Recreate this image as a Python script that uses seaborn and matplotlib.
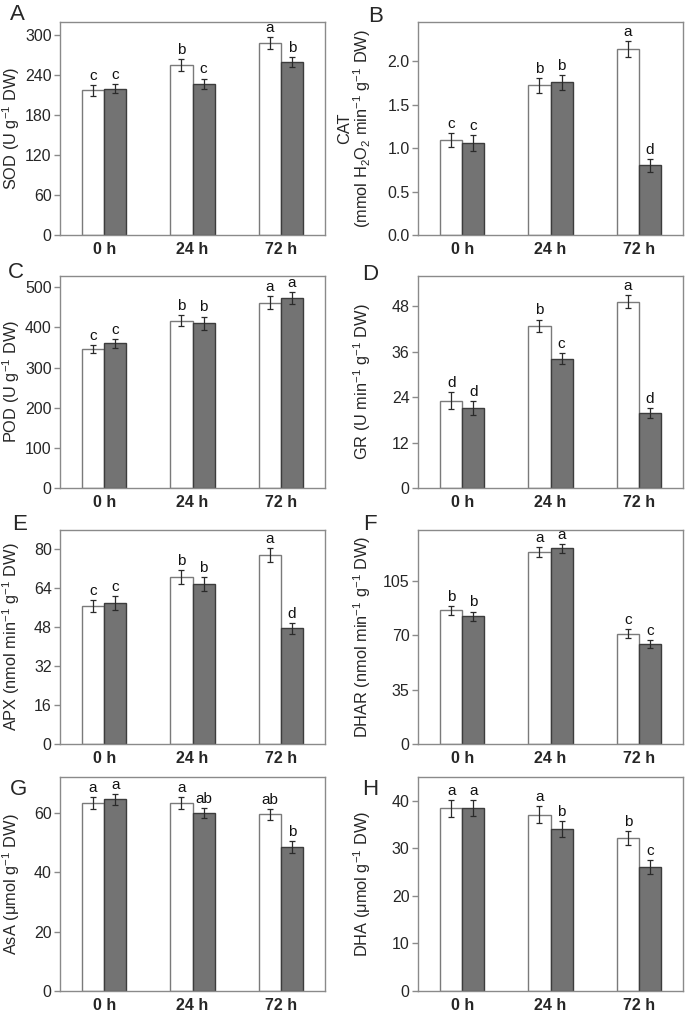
import numpy as np
import pandas as pd
import matplotlib
matplotlib.use("Agg")
import matplotlib.pyplot as plt
import seaborn as sns

sns.set_style("white")
plt.rcParams["font.family"] = ["Liberation Sans", "DejaVu Sans"]
plt.rcParams["mathtext.fontset"] = "custom"
plt.rcParams["mathtext.rm"] = "Liberation Sans"
plt.rcParams["mathtext.it"] = "Liberation Sans:italic"
plt.rcParams["mathtext.bf"] = "Liberation Sans:bold"

times = ["0 h", "24 h", "72 h"]
treatments = ["control", "treated"]

panel_ids = ["A", "B", "C", "D", "E", "F", "G", "H"]
ylabels = [
    r"SOD (U g$^{-1}$ DW)",
    "CAT\n" + r"(mmol H$_2$O$_2$ min$^{-1}$ g$^{-1}$ DW)",
    r"POD (U g$^{-1}$ DW)",
    r"GR (U min$^{-1}$ g$^{-1}$ DW)",
    r"APX (nmol min$^{-1}$ g$^{-1}$ DW)",
    r"DHAR (nmol min$^{-1}$ g$^{-1}$ DW)",
    r"AsA (μmol g$^{-1}$ DW)",
    r"DHA (μmol g$^{-1}$ DW)",
]

# mean values: control (white), treated (grey)
sod_ctrl = [217.5, 256, 288]
sod_trt = [220, 227, 260]
cat_ctrl = [1.09, 1.72, 2.14]
cat_trt = [1.06, 1.755, 0.80]
pod_ctrl = [345, 417, 462]
pod_trt = [360, 410, 473]
gr_ctrl = [23.1, 42.9, 49.2]
gr_trt = [21.1, 34.2, 19.8]
apx_ctrl = [56.6, 68.7, 77.7]
apx_trt = [58.0, 65.7, 47.6]
dhar_ctrl = [86.1, 123.9, 71.2]
dhar_trt = [82.4, 126.1, 64.3]
asa_ctrl = [63.3, 63.4, 59.4]
asa_trt = [64.5, 59.9, 48.3]
dha_ctrl = [38.4, 37.1, 32.2]
dha_trt = [38.5, 34.1, 26.1]

# standard errors
sod_err_ctrl = [8, 9, 9]
sod_err_trt = [7, 8, 7]
cat_err_ctrl = [0.08, 0.09, 0.09]
cat_err_trt = [0.09, 0.09, 0.07]
pod_err_ctrl = [10, 13, 15]
pod_err_trt = [11, 17, 14]
gr_err_ctrl = [2.2, 1.6, 1.7]
gr_err_trt = [1.9, 1.4, 1.4]
apx_err_ctrl = [2.5, 2.8, 2.8]
apx_err_trt = [2.8, 2.8, 2.2]
dhar_err_ctrl = [3.0, 3.0, 3.0]
dhar_err_trt = [3.0, 3.0, 2.5]
asa_err_ctrl = [2.0, 2.0, 1.8]
asa_err_trt = [1.8, 1.8, 2.0]
dha_err_ctrl = [1.8, 1.8, 1.5]
dha_err_trt = [1.7, 1.7, 1.5]

# significance letters
sod_let_ctrl = ["c", "b", "a"]
sod_let_trt = ["c", "c", "b"]
cat_let_ctrl = ["c", "b", "a"]
cat_let_trt = ["c", "b", "d"]
pod_let_ctrl = ["c", "b", "a"]
pod_let_trt = ["c", "b", "a"]
gr_let_ctrl = ["d", "b", "a"]
gr_let_trt = ["d", "c", "d"]
apx_let_ctrl = ["c", "b", "a"]
apx_let_trt = ["c", "b", "d"]
dhar_let_ctrl = ["b", "a", "c"]
dhar_let_trt = ["b", "a", "c"]
asa_let_ctrl = ["a", "a", "ab"]
asa_let_trt = ["a", "ab", "b"]
dha_let_ctrl = ["a", "a", "b"]
dha_let_trt = ["a", "b", "c"]

# y ticks and limits
sod_ticks = [0, 60, 120, 180, 240, 300]
cat_ticks = [0.0, 0.5, 1.0, 1.5, 2.0]
pod_ticks = [0, 100, 200, 300, 400, 500]
gr_ticks = [0, 12, 24, 36, 48]
apx_ticks = [0, 16, 32, 48, 64, 80]
dhar_ticks = [0, 35, 70, 105]
asa_ticks = [0, 20, 40, 60]
dha_ticks = [0, 10, 20, 30, 40]
ymaxes = [320, 2.45, 528, 56, 88, 138, 72, 45]

panels = [
    (sod_ctrl, sod_trt, sod_err_ctrl, sod_err_trt, sod_let_ctrl, sod_let_trt, sod_ticks, "{:.0f}"),
    (cat_ctrl, cat_trt, cat_err_ctrl, cat_err_trt, cat_let_ctrl, cat_let_trt, cat_ticks, "{:.1f}"),
    (pod_ctrl, pod_trt, pod_err_ctrl, pod_err_trt, pod_let_ctrl, pod_let_trt, pod_ticks, "{:.0f}"),
    (gr_ctrl, gr_trt, gr_err_ctrl, gr_err_trt, gr_let_ctrl, gr_let_trt, gr_ticks, "{:.0f}"),
    (apx_ctrl, apx_trt, apx_err_ctrl, apx_err_trt, apx_let_ctrl, apx_let_trt, apx_ticks, "{:.0f}"),
    (dhar_ctrl, dhar_trt, dhar_err_ctrl, dhar_err_trt, dhar_let_ctrl, dhar_let_trt, dhar_ticks, "{:.0f}"),
    (asa_ctrl, asa_trt, asa_err_ctrl, asa_err_trt, asa_let_ctrl, asa_let_trt, asa_ticks, "{:.0f}"),
    (dha_ctrl, dha_trt, dha_err_ctrl, dha_err_trt, dha_let_ctrl, dha_let_trt, dha_ticks, "{:.0f}"),
]

W, H = 685, 1015
fig = plt.figure(figsize=(W / 100, H / 100), dpi=100)

# axes boxes in pixels: left, top, right, bottom
col_x = [(60, 325), (418, 683)]
row_y = [(22, 235), (276, 488), (530, 744), (777, 991)]
letter_pos = [(10, 4), (368, 6), (8, 262), (362, 264), (12, 514), (363, 514), (10, 779), (362, 779)]
label_x = [-0.142, -0.168]

SPINE = "#8a8a8a"
DARK = "#737373"

for i, (pid, ylab, p) in enumerate(zip(panel_ids, ylabels, panels)):
    ctrl, trt, ec, et, lc, lt, ticks, fmt = p
    r, c = divmod(i, 2)
    x0, x1 = col_x[c]
    y0, y1 = row_y[r]
    ax = fig.add_axes([x0 / W, 1 - y1 / H, (x1 - x0) / W, (y1 - y0) / H])

    df = pd.DataFrame({
        "time": times * 2,
        "treatment": [treatments[0]] * 3 + [treatments[1]] * 3,
        "value": list(ctrl) + list(trt),
    })
    sns.barplot(data=df, x="time", y="value", hue="treatment", order=times,
                hue_order=treatments, palette=["white", DARK], width=0.5,
                errorbar=None, legend=False, ax=ax, linewidth=1.0)
    for patch in ax.patches:
        fc = patch.get_facecolor()
        if fc[0] > 0.9:
            patch.set_edgecolor("#7a7a7a")
        else:
            patch.set_edgecolor("#3c3c3c")

    idx = np.arange(len(times))
    for off, vals, errs, lets in [(-0.125, ctrl, ec, lc), (0.125, trt, et, lt)]:
        ax.errorbar(idx + off, vals, yerr=errs, fmt="none", ecolor="#2a2a2a",
                    elinewidth=0.9, capsize=2.3, capthick=0.9)
        for xi, v, e, l in zip(idx + off, vals, errs, lets):
            ax.annotate(l, (xi, v + e), xytext=(0, 1.5), textcoords="offset points",
                        ha="center", va="bottom", fontsize=11, color="#111111")

    ax.set_xlim(-0.5, 2.5)
    ax.set_ylim(0, ymaxes[i])
    ax.set_yticks(ticks)
    ax.set_yticklabels([fmt.format(t) for t in ticks])
    ax.set_xticks([-0.5, 0.5, 1.5, 2.5])
    ax.set_xticklabels([])
    ax.set_xticks(idx, minor=True)
    ax.set_xticklabels(times, minor=True, fontweight="bold", fontsize=11.5)
    ax.tick_params(axis="x", which="minor", length=0, pad=5)
    ax.tick_params(axis="x", which="major", length=4, direction="out", color=SPINE, width=1)
    ax.tick_params(axis="y", length=4, direction="out", color=SPINE, width=1,
                   labelsize=11.5, pad=2, left=True)
    ax.set_xlabel("")
    ax.set_ylabel(ylab, fontsize=11.8, linespacing=1.0)
    ax.yaxis.set_label_coords(label_x[c], 0.5)
    for s in ax.spines.values():
        s.set_color(SPINE)
        s.set_linewidth(1.0)
        s.set_visible(True)

    lx, ly = letter_pos[i]
    fig.text(lx / W, 1 - ly / H, pid, fontsize=16, ha="left", va="top")

fig.savefig("out.png", dpi=100, facecolor="white")
